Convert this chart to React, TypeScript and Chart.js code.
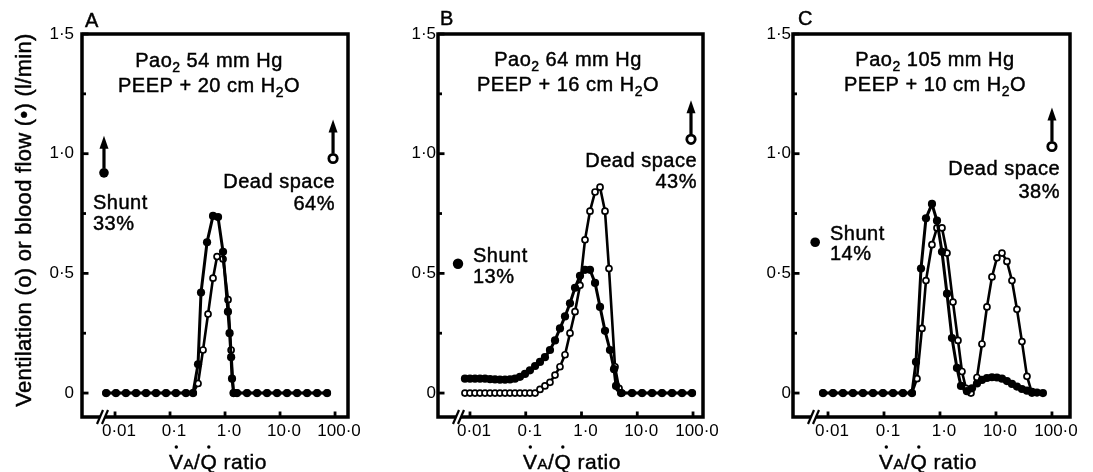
import React, { useEffect, useRef } from "react";
import { Chart, registerables } from "chart.js";
Chart.register(...registerables);

const FONT = '"Liberation Sans", Arial, Helvetica, sans-serif';

// ---------- axis ticks ----------
const xTickValues = [0.01, 0.1, 1, 10, 100];
const xTickLabels = ["0·01", "0·1", "1·0", "10·0", "100·0"];
const yTickValues = [0, 0.5, 1, 1.5];
const yTickLabels = ["0", "0·5", "1·0", "1·5"];
const yMinorValues = [0.25, 0.75, 1.25];

// ---------- panel A ----------
const aFlowX = [0.0069, 0.0104, 0.0158, 0.0241, 0.0366, 0.0556, 0.0846, 0.128, 0.195, 0.262, 0.323, 0.366, 0.471, 0.605, 0.746, 0.92, 1.13, 1.21, 1.29, 1.34, 1.43, 1.65, 2.51, 3.82, 5.8, 8.82, 13.4, 20.4, 31.0, 47.1, 71.6];
const aFlowY = [0, 0, 0, 0, 0, 0, 0, 0, 0, 0, 0.12, 0.42, 0.63, 0.74, 0.735, 0.59, 0.34, 0.25, 0.15, 0.06, 0, 0, 0, 0, 0, 0, 0, 0, 0, 0, 0];
const aVentX = [0.0069, 0.0104, 0.0158, 0.0241, 0.0366, 0.0556, 0.0846, 0.128, 0.195, 0.262, 0.323, 0.398, 0.491, 0.605, 0.716, 0.92, 1.134, 1.29, 1.43, 1.65, 2.51, 3.82, 5.8, 8.82, 13.4, 20.4, 31.0, 47.1, 71.6];
const aVentY = [0, 0, 0, 0, 0, 0, 0, 0, 0, 0, 0.04, 0.18, 0.33, 0.48, 0.57, 0.56, 0.39, 0.18, 0, 0, 0, 0, 0, 0, 0, 0, 0, 0, 0];

// ---------- panel B ----------
const bFlowX = [0.00813, 0.01, 0.0123, 0.0151, 0.0186, 0.0229, 0.0281, 0.0345, 0.0425, 0.0522, 0.0641, 0.0788, 0.0969, 0.119, 0.147, 0.18, 0.221, 0.272, 0.335, 0.411, 0.506, 0.622, 0.765, 0.94, 1.156, 1.42, 1.75, 2.15, 2.64, 3.24, 3.83, 4.16, 5.12, 8.05, 12.2, 18.4, 27.8, 42.0, 63.5, 96];
const bFlowY = [0.06, 0.06, 0.06, 0.06, 0.06, 0.058, 0.057, 0.056, 0.056, 0.057, 0.06, 0.068, 0.08, 0.095, 0.113, 0.13, 0.15, 0.18, 0.22, 0.27, 0.32, 0.375, 0.44, 0.49, 0.515, 0.515, 0.46, 0.36, 0.26, 0.18, 0.1, 0.03, 0, 0, 0, 0, 0, 0, 0, 0];
const bVentX = [0.00813, 0.01, 0.0123, 0.0151, 0.0186, 0.0229, 0.0281, 0.0345, 0.0425, 0.0522, 0.0641, 0.0788, 0.0969, 0.119, 0.147, 0.18, 0.221, 0.272, 0.335, 0.411, 0.506, 0.622, 0.765, 0.94, 1.156, 1.42, 1.75, 2.15, 2.64, 3.11, 3.99, 4.71, 5.32, 8.05, 12.2, 18.4, 27.8, 42.0, 63.5, 96];
const bVentY = [0, 0, 0, 0, 0, 0, 0, 0, 0, 0, 0, 0, 0, 0, 0, 0.015, 0.03, 0.045, 0.075, 0.11, 0.16, 0.25, 0.34, 0.45, 0.64, 0.76, 0.84, 0.86, 0.76, 0.52, 0.11, 0.02, 0, 0, 0, 0, 0, 0, 0, 0];

// ---------- panel C ----------
const cFlowX = [0.00815, 0.0123, 0.0185, 0.0279, 0.0421, 0.0636, 0.0959, 0.145, 0.218, 0.316, 0.373, 0.458, 0.562, 0.719, 0.884, 1.086, 1.334, 1.638, 2.01, 2.37, 3.03, 3.73, 4.58, 5.62, 6.9, 8.48, 10.4, 12.8, 15.7, 19.3, 23.7, 29.1, 35.8, 44.0, 54.0, 69.0];
const cFlowY = [0, 0, 0, 0, 0, 0, 0, 0, 0, 0, 0.13, 0.52, 0.73, 0.79, 0.72, 0.59, 0.415, 0.23, 0.105, 0.03, 0.008, 0.02, 0.04, 0.055, 0.063, 0.066, 0.065, 0.06, 0.05, 0.038, 0.027, 0.017, 0.01, 0.005, 0.002, 0];
const cVentX = [0.00815, 0.0123, 0.0185, 0.0279, 0.0421, 0.0636, 0.0959, 0.145, 0.218, 0.316, 0.388, 0.477, 0.562, 0.719, 0.884, 1.086, 1.334, 1.706, 2.096, 2.47, 2.91, 3.58, 4.58, 5.62, 6.9, 8.48, 10.4, 12.8, 15.7, 19.3, 23.7, 29.1, 35.8, 44.0];
const cVentY = [0, 0, 0, 0, 0, 0, 0, 0, 0, 0, 0.06, 0.27, 0.47, 0.62, 0.69, 0.69, 0.585, 0.38, 0.22, 0.09, 0.02, 0, 0.065, 0.205, 0.36, 0.485, 0.565, 0.585, 0.55, 0.47, 0.35, 0.215, 0.07, 0];

// ---------- shunt / dead space ----------
const shuntX = [0.0063, 0.0061, 0.0059];
const shuntY = [0.92, 0.54, 0.63];
const shuntPct = ["33%", "13%", "14%"];
const deadX = [92, 92, 100];
const deadY = [0.98, 1.06, 1.03];
const deadPct = ["64%", "43%", "38%"];
const paO2 = ["54", "64", "105"];
const peep = ["20", "16", "10"];
const letters = ["A", "B", "C"];

const FLOW_X = [aFlowX, bFlowX, cFlowX];
const FLOW_Y = [aFlowY, bFlowY, cFlowY];
const VENT_X = [aVentX, bVentX, cVentX];
const VENT_Y = [aVentY, bVentY, cVentY];

// ---------- layout (positions / sizes) ----------
const LAYOUT = [
  { left: 0, width: 365, yWidth: 82, padRight: 17, xMin: 0.00251, xMax: 172, yLabelPad: 8, letterPos: [85, 27], titleX: 209, titleY: [67, 92], shuntPos: [93, 209, 230], deadPos: [335, 188, 210], xTitleX: 218, yTitle: true, shuntArrow: true, shuntR: 4.8 },
  { left: 365, width: 365, yWidth: 73, padRight: 27, xMin: 0.00267, xMax: 151, yLabelPad: 2, letterPos: [75, 25], titleX: 203, titleY: [66, 91], shuntPos: [108, 262, 283], deadPos: [332, 167, 188], xTitleX: 207, yTitle: false, shuntArrow: false, shuntR: 5.2 },
  { left: 730, width: 363, yWidth: 63, padRight: 23, xMin: 0.00237, xMax: 210, yLabelPad: 2, letterPos: [68, 25], titleX: 205, titleY: [66, 91], shuntPos: [100, 240, 260], deadPos: [330, 175, 198], xTitleX: 198, yTitle: false, shuntArrow: false, shuntR: 4.8 },
];
const H = 472;
const TOP = 34;
const XH = 55;

type Seg = { t: string; sub?: boolean };

function txt(ctx: CanvasRenderingContext2D, s: string, x: number, y: number) {
  ctx.fillText(s, x, y);
  ctx.strokeText(s, x, y);
}

function drawSegs(ctx: CanvasRenderingContext2D, segs: Seg[], x: number, y: number, align: string, size: number) {
  const subSize = Math.round(size * 0.68);
  const widths = segs.map((s) => {
    ctx.font = `${s.sub ? subSize : size}px ${FONT}`;
    return ctx.measureText(s.t).width;
  });
  const total = widths.reduce((a, b) => a + b, 0);
  let cx = align === "left" ? x : align === "center" ? x - total / 2 : x - total;
  ctx.textAlign = "left";
  ctx.textBaseline = "alphabetic";
  segs.forEach((s, i) => {
    ctx.font = `${s.sub ? subSize : size}px ${FONT}`;
    txt(ctx, s.t, cx, s.sub ? y + 5 : y);
    cx += widths[i];
  });
}

function drawArrow(ctx: CanvasRenderingContext2D, x: number, yStart: number, yTip: number) {
  ctx.lineWidth = 3.2;
  ctx.beginPath();
  ctx.moveTo(x, yStart);
  ctx.lineTo(x, yTip + 8);
  ctx.stroke();
  ctx.beginPath();
  ctx.moveTo(x, yTip);
  ctx.lineTo(x - 4.5, yTip + 13);
  ctx.lineTo(x + 4.5, yTip + 13);
  ctx.closePath();
  ctx.fill();
}

function Panel({ idx }: { idx: number }) {
  const ref = useRef<HTMLCanvasElement | null>(null);
  const L = LAYOUT[idx];
  useEffect(() => {
    if (!ref.current) return;
    const flow = FLOW_X[idx].map((x, i) => ({ x, y: FLOW_Y[idx][i] }));
    const vent = VENT_X[idx].map((x, i) => ({ x, y: VENT_Y[idx][i] }));
    const decor = {
      id: "decor" + idx,
      afterDatasetsDraw(chart: any) {
        const { ctx, chartArea: ca, scales } = chart;
        const xs = scales.x;
        const ys = scales.y;
        ctx.save();
        ctx.strokeStyle = "#000";
        ctx.fillStyle = "#000";
        // frame
        ctx.lineWidth = 3.5;
        ctx.strokeRect(ca.left, ca.top, ca.right - ca.left, ca.bottom - ca.top);
        // inward ticks
        ctx.lineWidth = 2.8;
        xTickValues.forEach((v) => {
          const px = xs.getPixelForValue(v);
          ctx.beginPath();
          ctx.moveTo(px, ca.bottom);
          ctx.lineTo(px, ca.bottom - 5.5);
          ctx.stroke();
        });
        yTickValues.forEach((v) => {
          const py = ys.getPixelForValue(v);
          ctx.beginPath();
          ctx.moveTo(ca.left, py);
          ctx.lineTo(ca.left + 6.5, py);
          ctx.stroke();
        });
        yMinorValues.forEach((v) => {
          const py = ys.getPixelForValue(v);
          ctx.beginPath();
          ctx.moveTo(ca.left, py);
          ctx.lineTo(ca.left + 4, py);
          ctx.stroke();
        });
        // axis break
        const bx = ca.left + 19;
        const by = ca.bottom;
        ctx.fillStyle = "#fff";
        ctx.beginPath();
        ctx.moveTo(bx - 3, by + 4);
        ctx.lineTo(bx + 1, by - 4);
        ctx.lineTo(bx + 6, by - 4);
        ctx.lineTo(bx + 2, by + 4);
        ctx.closePath();
        ctx.fill();
        ctx.fillStyle = "#000";
        ctx.lineWidth = 2.2;
        [0, 5].forEach((d) => {
          ctx.beginPath();
          ctx.moveTo(bx - 4 + d, by + 7);
          ctx.lineTo(bx + 2 + d, by - 7);
          ctx.stroke();
        });
        // arrows
        const sx = xs.getPixelForValue(shuntX[idx]);
        const sy = ys.getPixelForValue(shuntY[idx]);
        if (L.shuntArrow) drawArrow(ctx, sx, sy - L.shuntR, sy - 37);
        const dx = xs.getPixelForValue(deadX[idx]);
        const dy = ys.getPixelForValue(deadY[idx]);
        drawArrow(ctx, dx, dy - 5, dy - 39);

        // text
        ctx.lineWidth = 0.45;
        ctx.letterSpacing = "0.5px";
        ctx.font = `20px ${FONT}`;
        ctx.textAlign = "left";
        ctx.textBaseline = "alphabetic";
        txt(ctx, letters[idx], L.letterPos[0], L.letterPos[1]);
        drawSegs(ctx, [{ t: "Pao" }, { t: "2", sub: true }, { t: ` ${paO2[idx]} mm Hg` }], L.titleX, L.titleY[0], "center", 20);
        drawSegs(ctx, [{ t: `PEEP + ${peep[idx]} cm H` }, { t: "2", sub: true }, { t: "O" }], L.titleX, L.titleY[1], "center", 20);
        drawSegs(ctx, [{ t: "Shunt" }], L.shuntPos[0], L.shuntPos[1], "left", 20);
        drawSegs(ctx, [{ t: shuntPct[idx] }], L.shuntPos[0], L.shuntPos[2], "left", 20);
        drawSegs(ctx, [{ t: "Dead space" }], L.deadPos[0], L.deadPos[1], "right", 20);
        drawSegs(ctx, [{ t: deadPct[idx] }], L.deadPos[0], L.deadPos[2], "right", 20);

        // x title: V̇A/Q̇ ratio
        const big = 21;
        const small = 15;
        ctx.font = `${big}px ${FONT}`;
        const wV = ctx.measureText("V").width;
        const wSl = ctx.measureText("/").width;
        const wQ = ctx.measureText("Q").width;
        const wRest = ctx.measureText("/Q ratio").width;
        ctx.font = `${small}px ${FONT}`;
        const wA = ctx.measureText("A").width;
        const total = wV + wA + wRest;
        const x0 = L.xTitleX - total / 2;
        const base = 469;
        ctx.font = `${big}px ${FONT}`;
        txt(ctx, "V", x0, base);
        ctx.font = `${small}px ${FONT}`;
        txt(ctx, "A", x0 + wV, base);
        ctx.font = `${big}px ${FONT}`;
        txt(ctx, "/Q ratio", x0 + wV + wA, base);
        ctx.beginPath();
        ctx.arc(x0 + wV / 2, base - 22, 1.7, 0, Math.PI * 2);
        ctx.fill();
        ctx.beginPath();
        ctx.arc(x0 + wV + wA + wSl + wQ / 2, base - 22, 1.7, 0, Math.PI * 2);
        ctx.fill();

        // y title
        if (L.yTitle) {
          ctx.save();
          ctx.translate(25, 220);
          ctx.rotate(-Math.PI / 2);
          ctx.font = `22px ${FONT}`;
          ctx.letterSpacing = "0.3px";
          ctx.textAlign = "center";
          ctx.textBaseline = "middle";
          txt(ctx, "Ventilation (o) or blood flow (•) (l/min)", 0, 0);
          ctx.restore();
        }
        ctx.restore();
      },
    };

    const chart = new Chart(ref.current, {
      type: "line",
      data: {
        datasets: [
          { data: flow, borderColor: "#000", borderWidth: 3, pointRadius: 4.1, pointBackgroundColor: "#000", pointBorderColor: "#000", pointBorderWidth: 0, tension: 0, fill: false },
          { data: vent, borderColor: "#000", borderWidth: 2.6, pointRadius: 3, pointBackgroundColor: "#fff", pointBorderColor: "#000", pointBorderWidth: 1.7, tension: 0, fill: false },
          { data: [{ x: shuntX[idx], y: shuntY[idx] }], showLine: false, pointRadius: L.shuntR, pointBackgroundColor: "#000", pointBorderColor: "#000", pointBorderWidth: 0 },
          { data: [{ x: deadX[idx], y: deadY[idx] }], showLine: false, pointRadius: 4.2, pointBackgroundColor: "#fff", pointBorderColor: "#000", pointBorderWidth: 2.8 },
        ] as any,
      },
      options: {
        animation: false,
        responsive: false,
        events: [],
        layout: { padding: { top: TOP, right: L.padRight, bottom: 0, left: 0 } },
        plugins: { legend: { display: false }, tooltip: { enabled: false } },
        scales: {
          x: {
            type: "logarithmic",
            min: L.xMin,
            max: L.xMax,
            afterBuildTicks: (s: any) => {
              s.ticks = xTickValues.map((v) => ({ value: v }));
            },
            afterFit: (s: any) => {
              s.height = XH;
            },
            ticks: {
              autoSkip: false,
              maxRotation: 0,
              padding: 4,
              labelOffset: 4,
              color: "#000",
              font: { family: FONT, size: 17 },
              callback: (_v: any, i: number) => xTickLabels[i],
            },
            grid: { display: false, drawTicks: false },
            border: { display: false },
          },
          y: {
            type: "linear",
            min: -0.1,
            max: 1.5,
            afterBuildTicks: (s: any) => {
              s.ticks = yTickValues.map((v) => ({ value: v }));
            },
            afterFit: (s: any) => {
              s.width = L.yWidth;
            },
            ticks: {
              padding: L.yLabelPad,
              color: "#000",
              font: { family: FONT, size: 17 },
              callback: (_v: any, i: number) => yTickLabels[i],
            },
            grid: { display: false, drawTicks: false },
            border: { display: false },
          },
        },
      } as any,
      plugins: [decor],
    });
    return () => chart.destroy();
  }, [idx]);
  return (
    <canvas
      ref={ref}
      width={L.width}
      height={H}
      style={{ position: "absolute", left: L.left, top: 0, width: L.width, height: H, display: "block" }}
    />
  );
}

export default function App() {
  return (
    <div style={{ position: "absolute", left: 0, top: 0, width: 1093, height: H, background: "#fff", overflow: "hidden" }}>
      <Panel idx={0} />
      <Panel idx={1} />
      <Panel idx={2} />
    </div>
  );
}
